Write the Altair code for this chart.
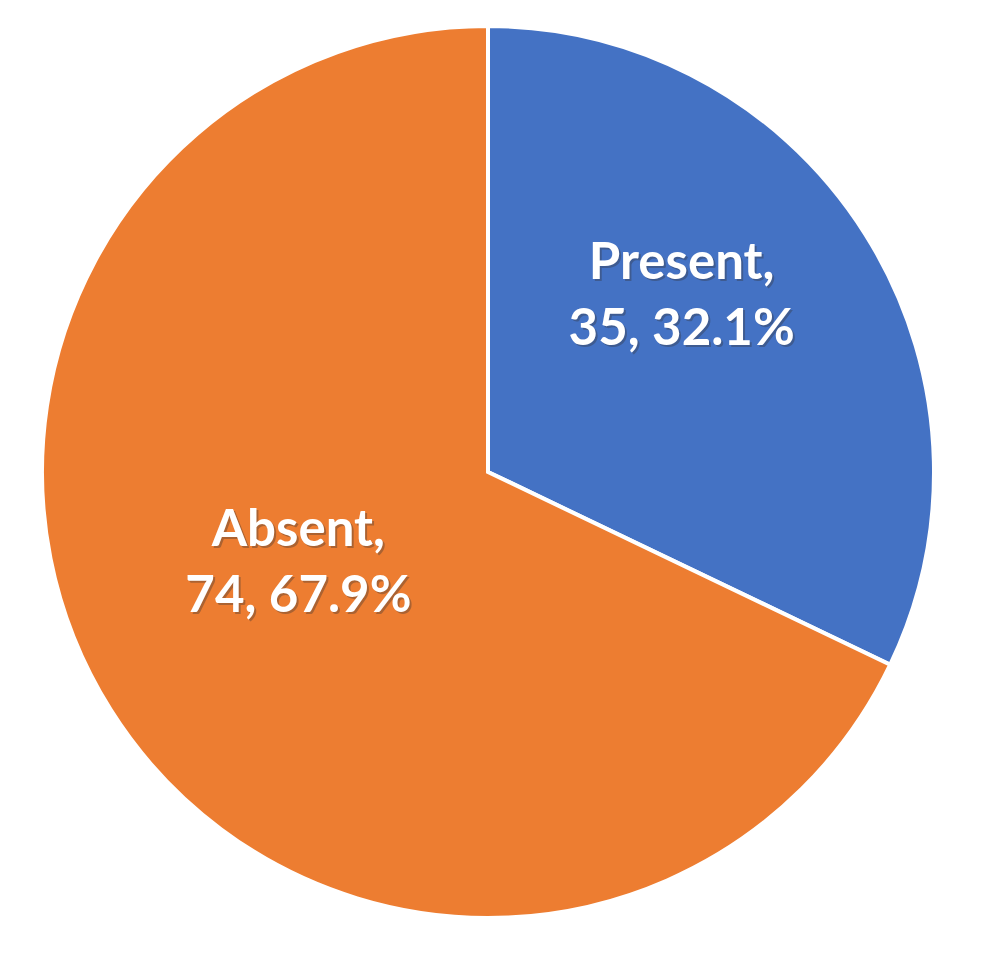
import altair as alt
import pandas as pd

categories = ["Present", "Absent"]
counts = [35, 74]
percents = ["32.1%", "67.9%"]
colors = ["#4472C4", "#ED7D31"]

df = pd.DataFrame({
    "category": categories,
    "count": counts,
    "pct": percents,
    "order": list(range(len(categories))),
})
df["label"] = df["category"] + ",\n" + df["count"].astype(str) + ", " + df["pct"]

R = 446
base = alt.Chart(df)

pie = base.mark_arc(outerRadius=R, stroke="white", strokeWidth=4).encode(
    theta=alt.Theta("count:Q", stack=True),
    order=alt.Order("order:Q"),
    color=alt.Color("category:N", scale=alt.Scale(domain=categories, range=colors), legend=None),
)

def label_layer(cat, dx, dy, color, opacity, shift=0):
    return (
        base.transform_window(cum="sum(count)", sort=[alt.SortField("order")])
        .transform_calculate(mid="datum.cum - datum.count / 2")
        .transform_filter(alt.datum.category == cat)
        .mark_text(
            radius=230, dx=dx + shift, dy=dy + shift, font="Lato", fontWeight="bold",
            fontSize=51, lineBreak="\n", lineHeight=66, align="center", baseline="middle",
            color=color, opacity=opacity,
        )
        .encode(theta=alt.Theta("mid:Q", stack=None), text="label:N")
    )

layers = [pie]
for cat, dx, dy in [("Present", -1, -85), ("Absent", 5, -64)]:
    layers.append(label_layer(cat, dx, dy, "#333333", 0.35, shift=2))
    layers.append(label_layer(cat, dx, dy, "white", 1.0))

chart = alt.layer(*layers).properties(
    width=960, height=928, padding=0, autosize=alt.AutoSizeParams(type="none")
).configure_view(stroke=None)

chart.save("out.html", embed_options={"renderer": "svg", "actions": False})
